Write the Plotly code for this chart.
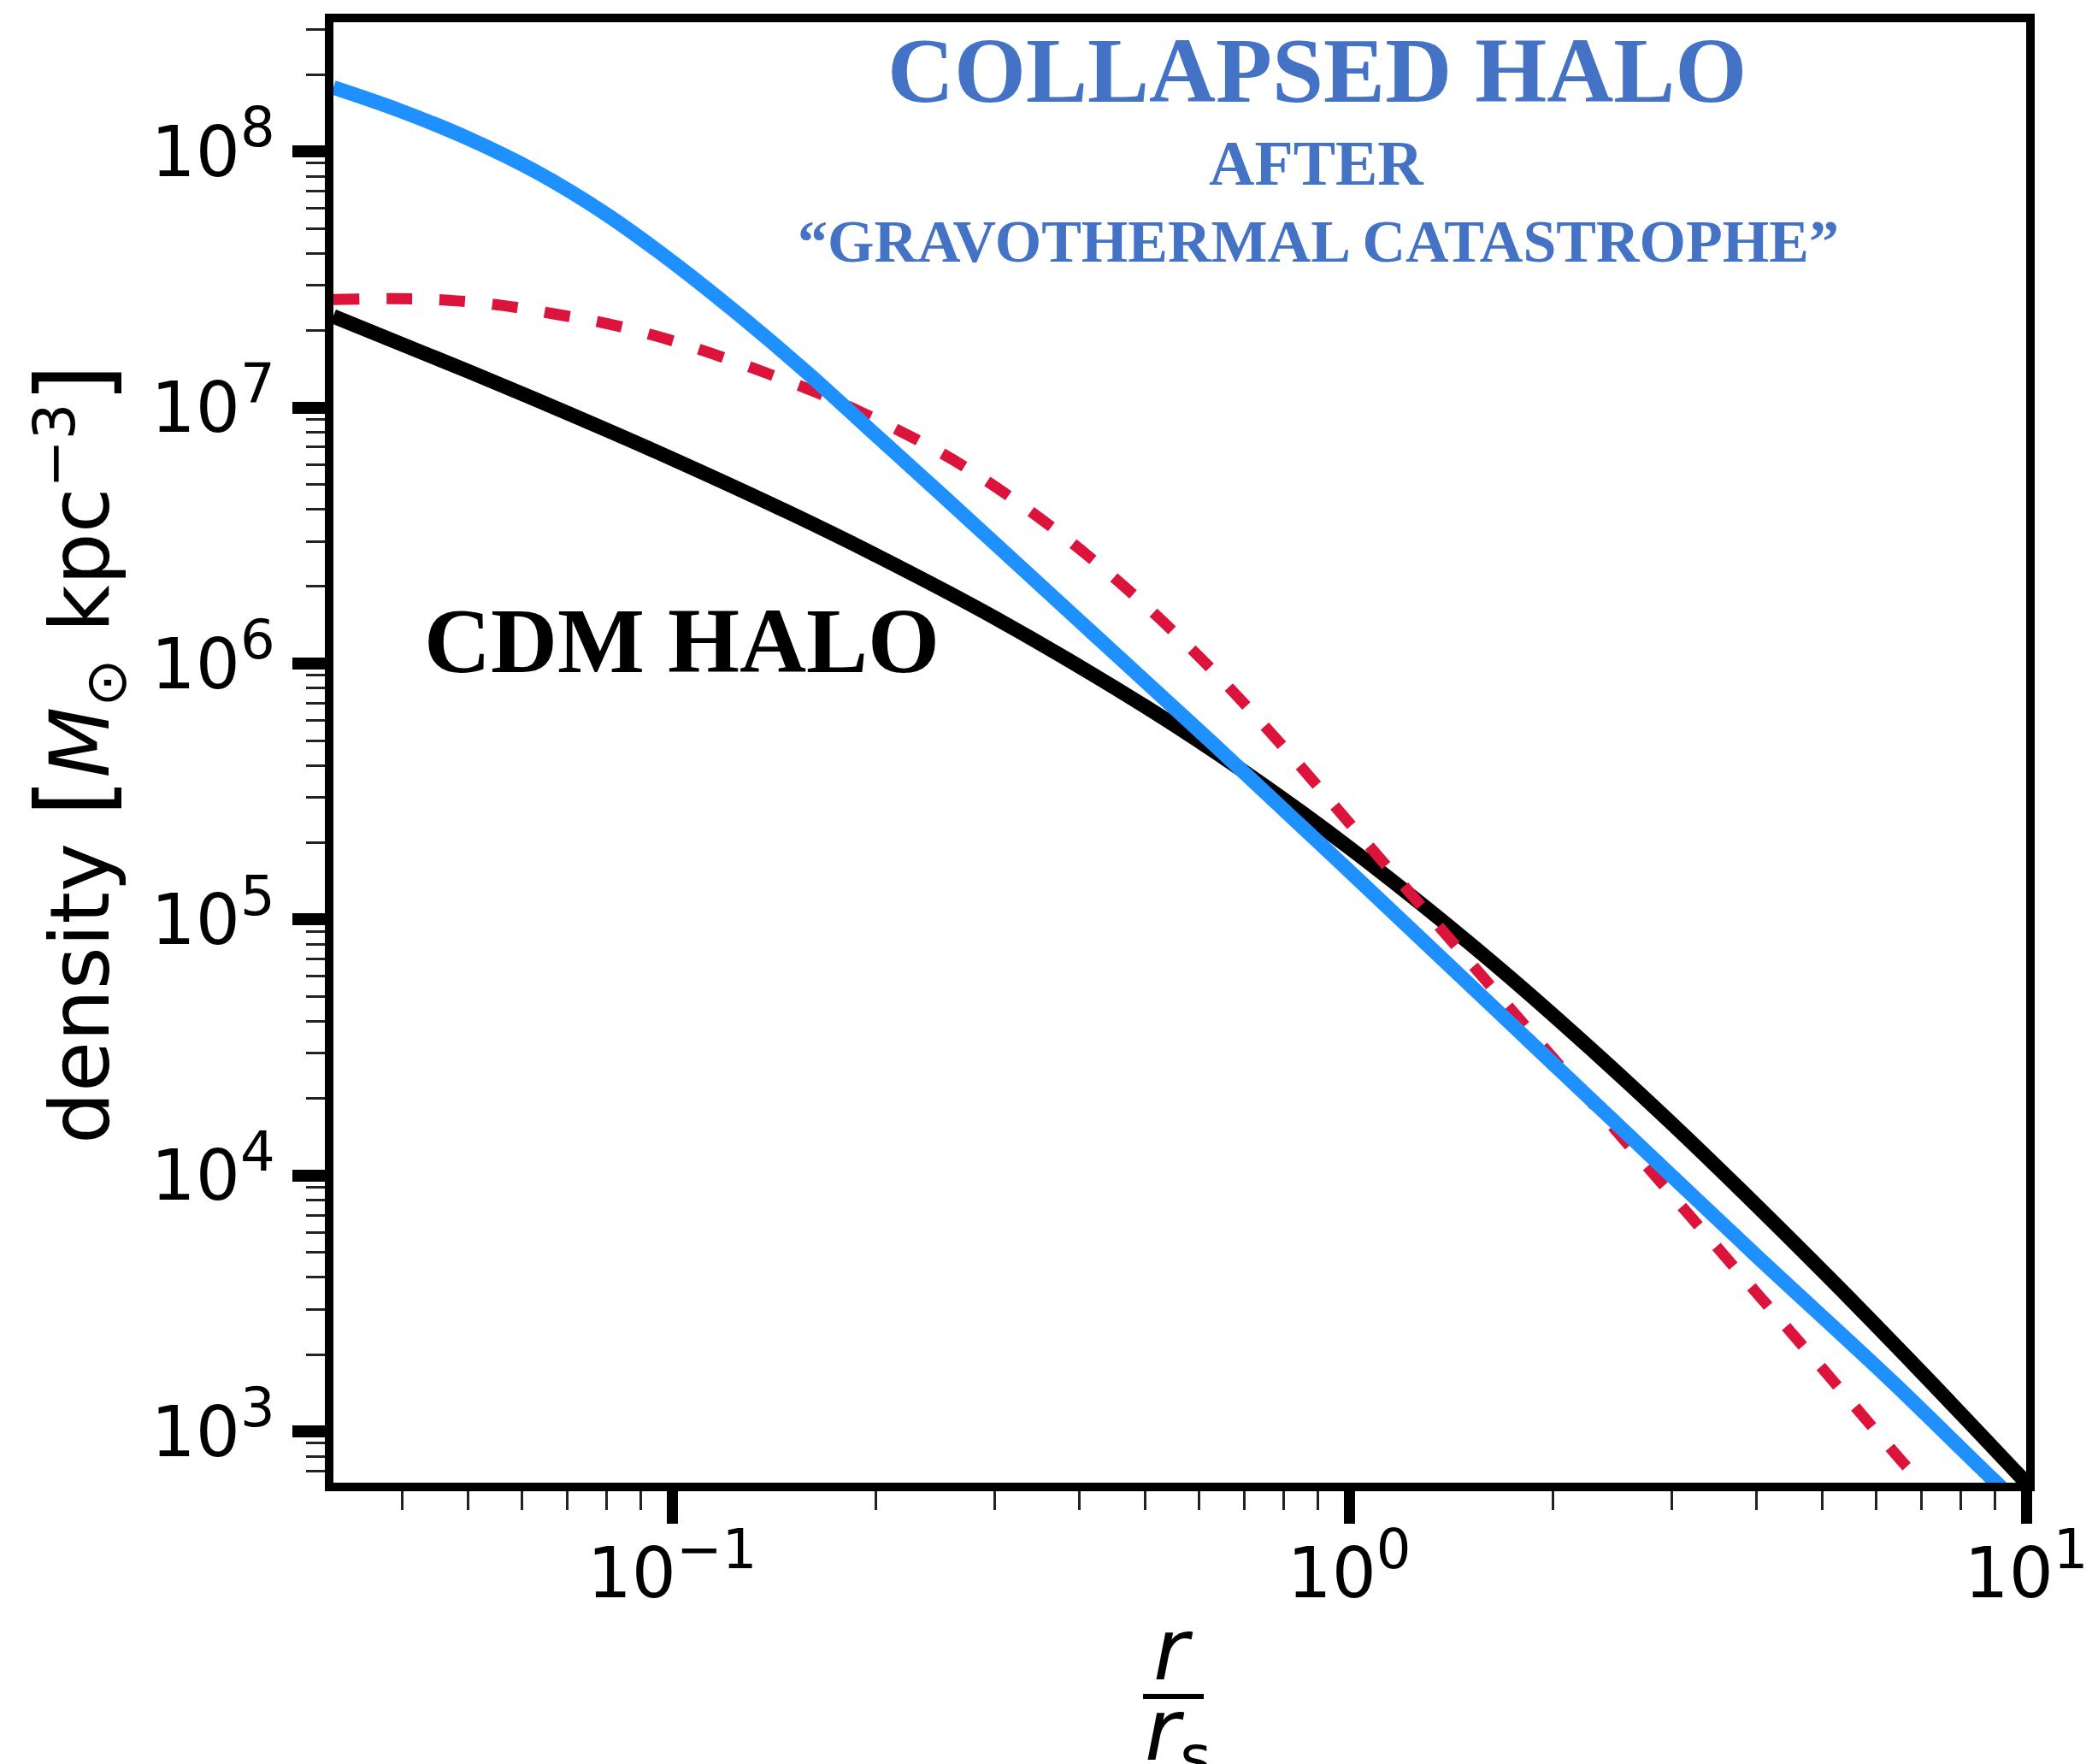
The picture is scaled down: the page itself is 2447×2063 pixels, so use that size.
import plotly.graph_objects as go

# ---- radius in units of the scale radius r/r_s ----
# CDM (NFW-like) halo
cdm_r = [0.0316, 0.05, 0.07, 0.1, 0.15, 0.2, 0.3, 0.5, 0.7, 1.0, 1.5, 2.0, 3.0, 5.0, 7.0, 10.0]
cdm_rho = [2.27e7, 1.386e7, 9.53e6, 6.31e6, 3.85e6, 2.65e6, 1.507e6, 6.79e5, 3.78e5,
           1.91e5, 8.15e4, 4.24e4, 1.59e4, 4.24e3, 1.705e3, 631]

# collapsed halo after the gravothermal catastrophe
col_r = [0.03162, 0.03981, 0.05012, 0.0631, 0.07943, 0.1, 0.1259, 0.1585, 0.1995,
         0.2512, 0.3981, 0.631, 1.0, 1.585, 2.512, 3.981, 6.31, 8.87, 10.0]
col_rho = [1.778e8, 1.439e8, 1.122e8, 8.318e7, 5.754e7, 3.715e7, 2.291e7, 1.365e7,
           7.852e6, 4.519e6, 1.479e6, 4.842e5, 1.549e5, 4.898e4, 1.549e4, 4.898e3,
           1.585e3, 660.7, 489.8]

# cored intermediate profile (dashed)
core_r = [0.03162, 0.03908, 0.04688, 0.0561, 0.06683, 0.0798, 0.09484, 0.113, 0.1413,
          0.177, 0.2512, 0.3162, 0.3981, 0.5012, 0.631, 0.7943, 1.0, 1.259, 1.585,
          1.995, 2.512, 3.162, 4.064, 5.012, 6.637, 6.76]
core_rho = [2.642e7, 2.661e7, 2.624e7, 2.506e7, 2.323e7, 2.133e7, 1.901e7, 1.644e7,
            1.330e7, 1.047e7, 6.592e6, 4.467e6, 2.831e6, 1.679e6, 9.311e5, 4.819e5,
            2.388e5, 1.183e5, 5.861e4, 2.904e4, 1.439e4, 7.129e3, 3.311e3, 1.750e3,
            736.2, 700]

x_major = [0.1, 1, 10]
x_exponents = ["−1", "0", "1"]
y_major = [1e3, 1e4, 1e5, 1e6, 1e7, 1e8]
y_exponents = ["3", "4", "5", "6", "7", "8"]

SUP = "<sup><span style='font-size:64px'>{}</span></sup>"
x_major_text = ["10" + SUP.format(e) for e in x_exponents]
y_major_text = ["10" + SUP.format(e) for e in y_exponents]

x_minor = [m * 10.0 ** e for e in (-2, -1, 0) for m in range(2, 10)]
x_minor = [v for v in x_minor if 0.0316 <= v <= 10]
y_minor = [m * 10.0 ** e for e in range(2, 9) for m in range(2, 10)]
y_minor = [v for v in y_minor if 631 <= v <= 3.2e8]

# ---- page geometry (pixels) ----
W, H = 2447, 2063
L, R, T, B = 390, 2370, 26, 1734


def px(x):
    return (x - L) / (R - L)


def py(y):
    return (B - y) / (B - T)


fig = go.Figure()
fig.add_trace(go.Scatter(x=cdm_r, y=cdm_rho, mode="lines",
                         line=dict(color="black", width=17, shape="spline", smoothing=1.0)))
fig.add_trace(go.Scatter(x=core_r, y=core_rho, mode="lines",
                         line=dict(color="#DC143C", width=13, dash="30px,32px",
                                   shape="spline", smoothing=1.0)))
fig.add_trace(go.Scatter(x=col_r, y=col_rho, mode="lines",
                         line=dict(color="#1E90FF", width=17, shape="spline", smoothing=1.0)))

tickfont = dict(family="DejaVu Sans", size=82, color="black")
fig.update_xaxes(type="log", range=[-1.5, 1], showgrid=False, zeroline=False,
                 showline=True, linecolor="black", linewidth=10, mirror=True,
                 ticks="outside", ticklen=38, tickwidth=13, tickcolor="black",
                 tickvals=x_major, ticktext=x_major_text, tickfont=tickfont,
                 ticklabelstandoff=-12,
                 minor=dict(tickvals=x_minor, ticks="outside", ticklen=22,
                            tickwidth=3, tickcolor="#222", showgrid=False))
fig.update_yaxes(type="log", range=[2.80, 8.505], showgrid=False, zeroline=False,
                 showline=True, linecolor="black", linewidth=10, mirror=True,
                 ticks="outside", ticklen=38, tickwidth=14, tickcolor="black",
                 tickvals=y_major, ticktext=y_major_text, tickfont=tickfont,
                 ticklabelstandoff=4,
                 minor=dict(tickvals=y_minor, ticks="outside", ticklen=22,
                            tickwidth=3, tickcolor="#222", showgrid=False))

ann = []
# y-axis label with tall brackets around the unit
BR = "<span style='font-size:118px'>{}</span>"
ylab = ("density " + BR.format("[") + "<i>M</i><sub>⊙</sub> kpc<sup>−3</sup>"
        + BR.format("]"))
ann.append(dict(text=ylab, textangle=-90,
                x=px(90), y=py(882), xref="paper", yref="paper",
                xanchor="center", yanchor="middle", showarrow=False,
                font=dict(family="DejaVu Sans", size=96, color="black")))
# x-axis label as a fraction r / r_s
ann.append(dict(text="<i>r</i>", x=px(1372), y=py(1930), xref="paper", yref="paper",
                xanchor="center", yanchor="middle", showarrow=False,
                font=dict(family="DejaVu Sans", size=100, color="black")))
ann.append(dict(text="<i>r</i><sub>s</sub>", x=px(1378), y=py(2030), xref="paper", yref="paper",
                xanchor="center", yanchor="middle", showarrow=False,
                font=dict(family="DejaVu Sans", size=100, color="black")))

blue = "#4472C4"
serif = "Liberation Serif"
ann.append(dict(text="<b>COLLAPSED HALO</b>", x=px(1540), y=py(82), xref="paper", yref="paper",
                xanchor="center", yanchor="middle", showarrow=False,
                font=dict(family=serif, size=108, color=blue)))
ann.append(dict(text="<b>AFTER</b>", x=px(1540), y=py(191), xref="paper", yref="paper",
                xanchor="center", yanchor="middle", showarrow=False,
                font=dict(family=serif, size=74, color=blue)))
ann.append(dict(text="<b>“GRAVOTHERMAL CATASTROPHE”</b>", x=px(1542), y=py(282),
                xref="paper", yref="paper", xanchor="center", yanchor="middle", showarrow=False,
                font=dict(family=serif, size=70, color=blue)))
ann.append(dict(text="<b>CDM HALO</b>", x=px(797), y=py(749), xref="paper", yref="paper",
                xanchor="center", yanchor="middle", showarrow=False,
                font=dict(family=serif, size=108, color="black")))

fig.update_layout(
    width=W, height=H, showlegend=False,
    paper_bgcolor="white", plot_bgcolor="white",
    margin=dict(l=L, r=W - R, t=T, b=H - B, autoexpand=False),
    annotations=ann,
    shapes=[dict(type="line", xref="paper", yref="paper",
                 x0=px(1337), x1=px(1408), y0=py(1984), y1=py(1984),
                 line=dict(color="black", width=6))],
)

fig.write_html("out.html")
